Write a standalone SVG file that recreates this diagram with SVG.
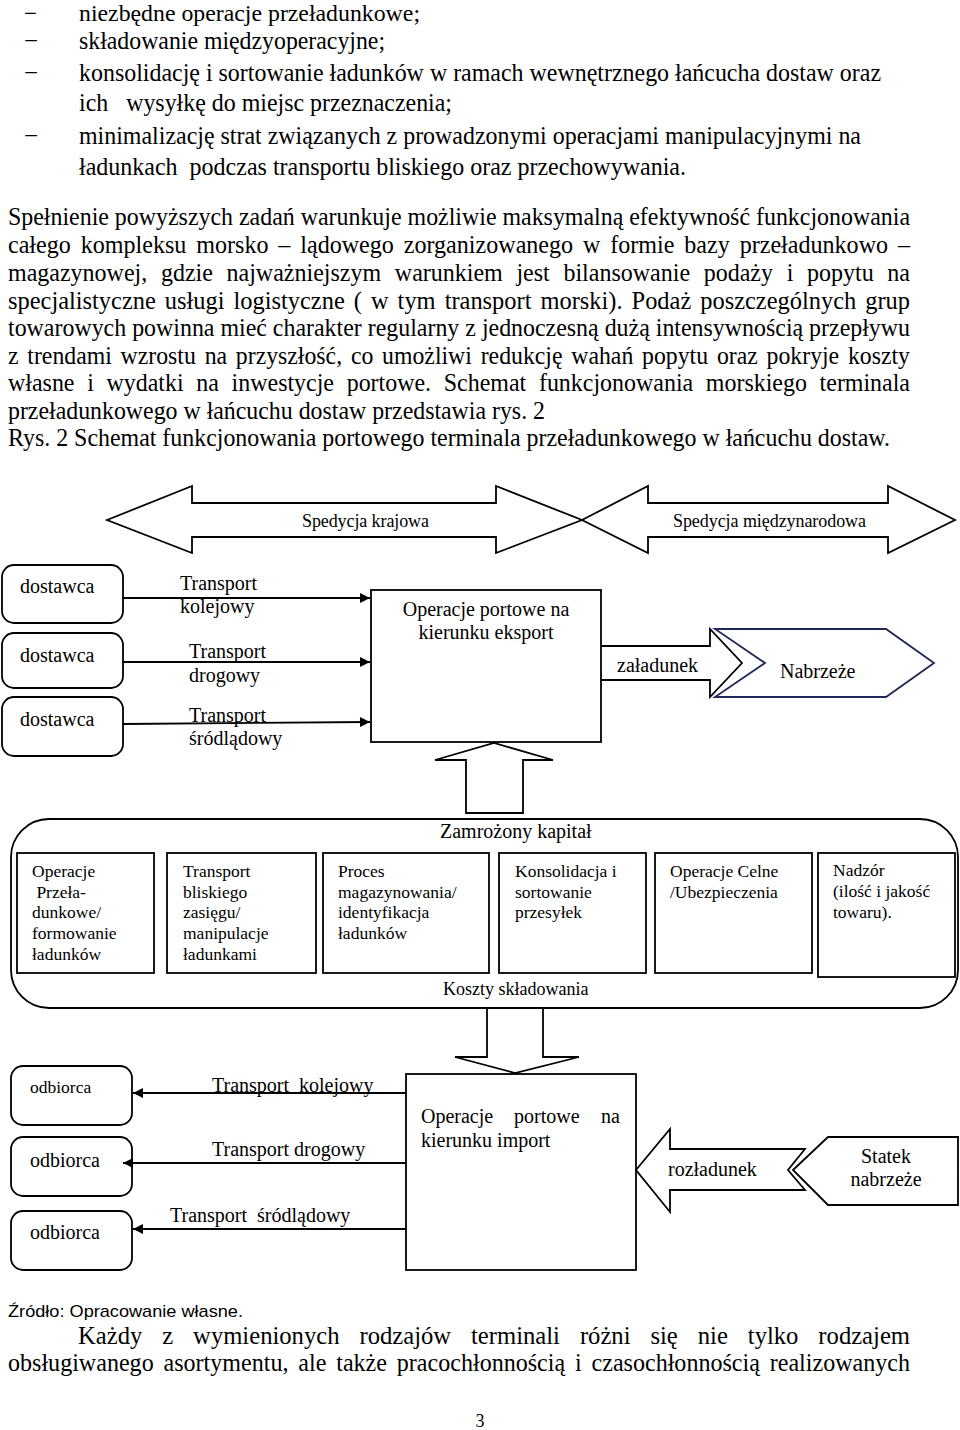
<svg xmlns="http://www.w3.org/2000/svg" width="960" height="1430" viewBox="0 0 960 1430">
<style>
text{font-family:"Liberation Serif","Times New Roman",serif;fill:#000;white-space:pre}
.b{font-size:25px}
.b1{font-size:23px}
.d{font-size:20px}
.m{font-size:18px}
.s{font-size:17.5px}
.box{fill:none;stroke:#000;stroke-width:1.8}
.ln{fill:none;stroke:#000;stroke-width:1.8}
.blk{fill:#fff;stroke:#000;stroke-width:1.8;stroke-linejoin:miter}
.open{fill:none;stroke:#000;stroke-width:1.8}
</style>
<defs>
<marker id="ah" viewBox="0 0 10 10" refX="10" refY="5" markerWidth="11" markerHeight="10" markerUnits="userSpaceOnUse" orient="auto">
<path d="M0,0 L10,5 L0,10 z" fill="#000"/>
</marker>
</defs>
<rect width="960" height="1430" fill="#fff"/>

<g id="text-top">
<text class="b1" x="24" y="21">−</text>
<text class="b1" x="79" y="21" textLength="341" lengthAdjust="spacingAndGlyphs">niezbędne operacje przeładunkowe;</text>
<text class="b" x="24" y="49">−</text>
<text class="b" x="79" y="49" textLength="306" lengthAdjust="spacingAndGlyphs">składowanie międzyoperacyjne;</text>
<text class="b" x="24" y="81">−</text>
<text class="b" x="79" y="81" textLength="802" lengthAdjust="spacingAndGlyphs">konsolidację i sortowanie ładunków w ramach wewnętrznego łańcucha dostaw oraz</text>
<text class="b" x="79" y="111" textLength="373" lengthAdjust="spacingAndGlyphs">ich   wysyłkę do miejsc przeznaczenia;</text>
<text class="b" x="24" y="144">−</text>
<text class="b" x="79" y="144" textLength="782" lengthAdjust="spacingAndGlyphs">minimalizację strat związanych z prowadzonymi operacjami manipulacyjnymi na</text>
<text class="b" x="79" y="175" textLength="607" lengthAdjust="spacingAndGlyphs">ładunkach  podczas transportu bliskiego oraz przechowywania.</text>

<text class="b" x="8" y="225" textLength="902" lengthAdjust="spacingAndGlyphs">Spełnienie powyższych zadań warunkuje możliwie maksymalną efektywność funkcjonowania</text>
<text class="b" x="8" y="253" textLength="902" lengthAdjust="spacingAndGlyphs" style="word-spacing:4px">całego kompleksu morsko – lądowego zorganizowanego w formie bazy przeładunkowo –</text>
<text class="b" x="8" y="281" textLength="902" lengthAdjust="spacingAndGlyphs" style="word-spacing:8px">magazynowej, gdzie najważniejszym warunkiem jest bilansowanie podaży i popytu na</text>
<text class="b" x="8" y="309" textLength="902" lengthAdjust="spacingAndGlyphs" style="word-spacing:3px">specjalistyczne usługi logistyczne ( w tym transport morski). Podaż poszczególnych grup</text>
<text class="b" x="8" y="336" textLength="902" lengthAdjust="spacingAndGlyphs">towarowych powinna mieć charakter regularny z jednoczesną dużą intensywnością przepływu</text>
<text class="b" x="8" y="364" textLength="902" lengthAdjust="spacingAndGlyphs" style="word-spacing:3px">z trendami wzrostu na przyszłość, co umożliwi redukcję wahań popytu oraz pokryje koszty</text>
<text class="b" x="8" y="391" textLength="902" lengthAdjust="spacingAndGlyphs" style="word-spacing:7px">własne i wydatki na inwestycje portowe. Schemat funkcjonowania morskiego terminala</text>
<text class="b" x="8" y="419" textLength="537" lengthAdjust="spacingAndGlyphs">przeładunkowego w łańcuchu dostaw przedstawia rys. 2</text>
<text class="b" x="8" y="446" textLength="882" lengthAdjust="spacingAndGlyphs">Rys. 2 Schemat funkcjonowania portowego terminala przeładunkowego w łańcuchu dostaw.</text>
</g>

<g id="connectors">
<polygon class="open" points="107,520 192,486 192,503 496,503 496,486 582,520 496,553 496,537 192,537 192,553"/>
<polygon class="open" points="582,520 648,486 648,503 888,503 888,486 955,520 888,553 888,537 648,537 648,553"/>
<line class="ln" x1="123" y1="598" x2="370" y2="598" marker-end="url(#ah)"/>
<line class="ln" x1="123" y1="662" x2="370" y2="662" marker-end="url(#ah)"/>
<line class="ln" x1="123" y1="724" x2="370" y2="722" marker-end="url(#ah)"/>
<path class="blk" d="M601,646 H710 V629 L742,663 L710,697 V680 H601"/>
<polygon class="blk" points="466,813 466,760 435,760 494,743 553,760 523,760 523,813"/>
<path class="blk" d="M487,1008 V1057 H455 L515,1073 L579,1057 H543 V1008"/>
<line class="ln" x1="406" y1="1093" x2="133" y2="1093" marker-end="url(#ah)"/>
<line class="ln" x1="406" y1="1163" x2="123" y2="1163" marker-end="url(#ah)"/>
<line class="ln" x1="406" y1="1229" x2="133" y2="1229" marker-end="url(#ah)"/>
<polygon class="blk" points="636,1170 670,1129 670,1149 805,1149 788,1170 805,1190 670,1190 670,1212"/>
</g>

<g id="labels">
<text class="m" x="302" y="527" textLength="127" lengthAdjust="spacing">Spedycja krajowa</text>
<text class="m" x="673" y="527" textLength="193" lengthAdjust="spacing">Spedycja międzynarodowa</text>
<text class="d" x="180" y="590">Transport</text>
<text class="d" x="180" y="613">kolejowy</text>
<text class="d" x="189" y="658">Transport</text>
<text class="d" x="189" y="682">drogowy</text>
<text class="d" x="189" y="722">Transport</text>
<text class="d" x="189" y="745">śródlądowy</text>
<text class="d" x="617" y="672">załadunek</text>
<text class="d" x="212" y="1092">Transport  kolejowy</text>
<text class="d" x="212" y="1156">Transport drogowy</text>
<text class="d" x="170" y="1222">Transport  śródlądowy</text>
<text class="d" x="668" y="1176">rozładunek</text>
</g>

<g id="dostawca-1"><rect class="box" x="2" y="565" width="121" height="58" rx="12"/><text class="d" x="20" y="593">dostawca</text></g>
<g id="dostawca-2"><rect class="box" x="2" y="633" width="121" height="55" rx="12"/><text class="d" x="20" y="662">dostawca</text></g>
<g id="dostawca-3"><rect class="box" x="2" y="697" width="121" height="59" rx="12"/><text class="d" x="20" y="726">dostawca</text></g>

<g id="eksport"><rect class="box" x="371" y="590" width="230" height="152"/>
<text class="d" x="486" y="616" text-anchor="middle">Operacje portowe na</text>
<text class="d" x="486" y="639" text-anchor="middle">kierunku eksport</text></g>

<g id="nabrzeze"><polygon points="715,629 886,629 934,663 886,697 715,697 765,663" fill="none" stroke="#1F2858" stroke-width="1.8"/>
<text class="d" x="780" y="678">Nabrzeże</text></g>

<g id="kontener"><rect class="box" x="11" y="819" width="947" height="189" rx="38"/>
<text class="d" x="440" y="838">Zamrożony kapitał</text>
<text class="m" x="443" y="995">Koszty składowania</text></g>

<g id="op-przeladunkowe"><rect class="box" x="17" y="853" width="137" height="120"/>
<text class="s" x="32" y="877">Operacje</text><text class="s" x="32" y="898"> Przeła-</text><text class="s" x="32" y="918">dunkowe/</text><text class="s" x="32" y="939">formowanie</text><text class="s" x="32" y="960">ładunków</text></g>
<g id="transport-bliski"><rect class="box" x="167" y="853" width="149" height="120"/>
<text class="s" x="183" y="877">Transport</text><text class="s" x="183" y="898">bliskiego</text><text class="s" x="183" y="918">zasięgu/</text><text class="s" x="183" y="939">manipulacje</text><text class="s" x="183" y="960">ładunkami</text></g>
<g id="magazynowanie"><rect class="box" x="323" y="853" width="166" height="120"/>
<text class="s" x="338" y="877">Proces</text><text class="s" x="338" y="898">magazynowania/</text><text class="s" x="338" y="918">identyfikacja</text><text class="s" x="338" y="939">ładunków</text></g>
<g id="konsolidacja"><rect class="box" x="499" y="853" width="147" height="120"/>
<text class="s" x="515" y="877">Konsolidacja i</text><text class="s" x="515" y="898">sortowanie</text><text class="s" x="515" y="918">przesyłek</text></g>
<g id="celne"><rect class="box" x="655" y="853" width="157" height="120"/>
<text class="s" x="670" y="877">Operacje Celne</text><text class="s" x="670" y="898">/Ubezpieczenia</text></g>
<g id="nadzor"><rect class="box" x="818" y="853" width="137" height="124"/>
<text class="s" x="833" y="876">Nadzór</text><text class="s" x="833" y="897">(ilość i jakość</text><text class="s" x="833" y="918">towaru).</text></g>

<g id="import"><rect class="box" x="406" y="1074" width="230" height="196"/>
<text class="d" y="1123"><tspan x="421">Operacje</tspan><tspan x="514">portowe</tspan><tspan x="601">na</tspan></text>
<text class="d" x="421" y="1147">kierunku import</text></g>

<g id="odbiorca-1"><rect class="box" x="11" y="1066" width="121" height="59" rx="12"/><text class="s" x="30" y="1093">odbiorca</text></g>
<g id="odbiorca-2"><rect class="box" x="11" y="1137" width="121" height="59" rx="12"/><text class="d" x="30" y="1167">odbiorca</text></g>
<g id="odbiorca-3"><rect class="box" x="11" y="1211" width="121" height="59" rx="12"/><text class="d" x="30" y="1239">odbiorca</text></g>

<g id="statek"><polygon class="box" points="793,1170 828,1137 958,1137 958,1205 828,1205"/>
<text class="d" x="886" y="1163" text-anchor="middle">Statek</text>
<text class="d" x="886" y="1186" text-anchor="middle">nabrzeże</text></g>

<g id="text-bottom">
<text x="8" y="1317" style="font-family:'Liberation Sans',Arial,sans-serif;font-size:17px" textLength="235" lengthAdjust="spacingAndGlyphs">Źródło: Opracowanie własne.</text>
<text class="b" x="78" y="1344" textLength="832" lengthAdjust="spacingAndGlyphs" style="word-spacing:14px">Każdy z wymienionych rodzajów terminali różni się nie tylko rodzajem</text>
<text class="b" x="8" y="1371" textLength="902" lengthAdjust="spacingAndGlyphs" style="word-spacing:4px">obsługiwanego asortymentu, ale także pracochłonnością i czasochłonnością realizowanych</text>
<text class="m" x="480" y="1427" text-anchor="middle">3</text>
</g>
</svg>
